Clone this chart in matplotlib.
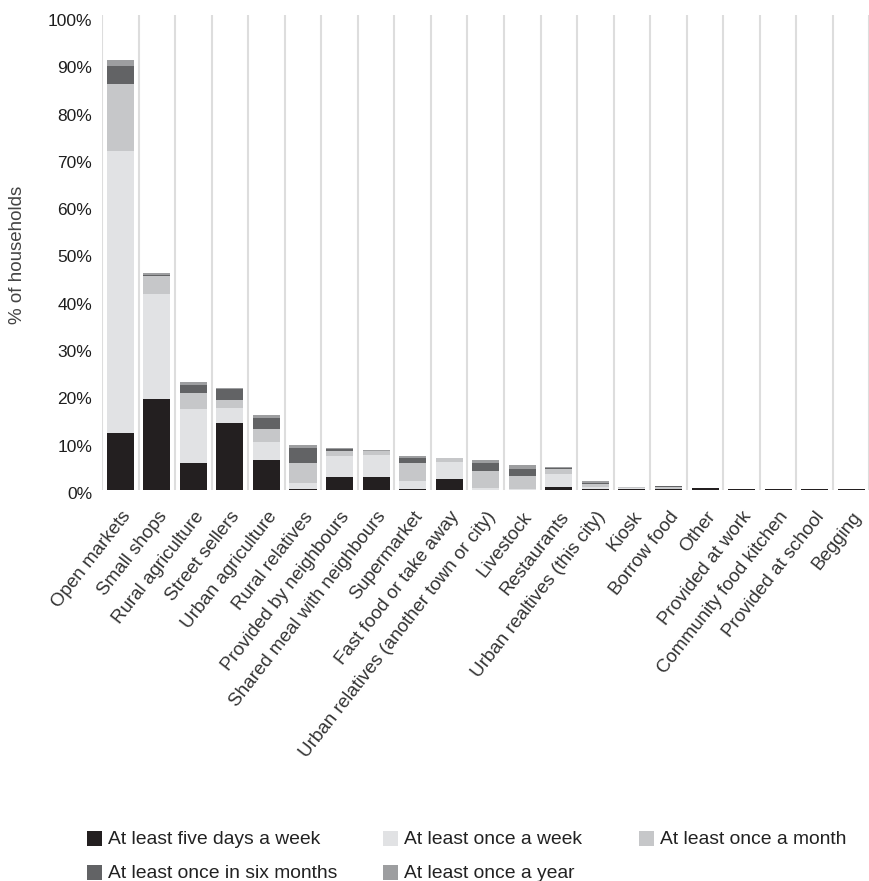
import matplotlib
matplotlib.use("Agg")
import matplotlib.pyplot as plt
from matplotlib.patches import Rectangle
from matplotlib.transforms import ScaledTranslation
import numpy as np

categories = [
    "Open markets", "Small shops", "Rural agriculture", "Street sellers",
    "Urban agriculture", "Rural relatives", "Provided by neighbours",
    "Shared meal with neighbours", "Supermarket", "Fast food or take away",
    "Urban relatives (another town or city)", "Livestock", "Restaurants",
    "Urban realtives (this city)", "Kiosk", "Borrow food", "Other",
    "Provided at work", "Community food kitchen", "Provided at school", "Begging",
]

five_days  = [12.1, 19.2, 5.7, 14.2, 6.3, 0.3, 2.8, 2.8, 0.3, 2.3, 0.1, 0.1, 0.7, 0.2, 0.2, 0.2, 0.4, 0.2, 0.2, 0.2, 0.2]
once_week  = [59.6, 22.2, 11.4, 3.1, 3.8, 1.2, 4.4, 4.6, 1.6, 3.6, 0.3, 0.1, 2.7, 0.5, 0.2, 0.0, 0.0, 0.0, 0.0, 0.0, 0.0]
once_month = [14.1, 3.8, 3.4, 1.7, 2.8, 4.2, 1.1, 0.9, 3.8, 0.9, 3.6, 2.8, 1.0, 0.5, 0.2, 0.4, 0.0, 0.0, 0.0, 0.0, 0.0]
six_months = [3.8, 0.3, 1.7, 2.4, 2.3, 3.2, 0.4, 0.0, 1.1, 0.0, 1.7, 1.5, 0.3, 0.2, 0.0, 0.2, 0.0, 0.0, 0.0, 0.0, 0.0]
once_year  = [1.3, 0.4, 0.6, 0.2, 0.7, 0.6, 0.2, 0.2, 0.4, 0.0, 0.7, 0.8, 0.1, 0.6, 0.0, 0.0, 0.0, 0.0, 0.0, 0.0, 0.0]

series_labels = [
    "At least five days a week", "At least once a week", "At least once a month",
    "At least once in six months", "At least once a year",
]
series = [five_days, once_week, once_month, six_months, once_year]
colors = ["#231f20", "#e1e2e4", "#c6c7c9", "#626365", "#9d9ea0"]

yticks = list(range(0, 101, 10))
ytick_labels = [f"{v}%" for v in yticks]

plt.rcParams['font.family'] = ['Liberation Sans', 'DejaVu Sans']

W, H = 870, 881
fig = plt.figure(figsize=(W / 100, H / 100), dpi=100)
ax = fig.add_axes([102 / W, (H - 490) / H, (869.5 - 102) / W, (490 - 15) / H])

x = np.arange(len(categories))
bottom = np.zeros(len(categories))
for vals, col in zip(series, colors):
    vals = np.array(vals)
    ax.bar(x, vals, width=0.74, bottom=bottom, color=col, linewidth=0, zorder=3)
    bottom += vals

ax.set_xlim(-0.5, len(categories) - 0.5)
ax.set_ylim(0, 100.42)

# light separators between categories
for k in range(len(categories) + 1):
    ax.axvline(k - 0.5, color="#dddddd", lw=1.5, zorder=1)

for s in ax.spines.values():
    s.set_visible(False)

ax.set_yticks(yticks)
ax.set_yticklabels(ytick_labels, fontsize=12.5, color="#1e1e1e")
ax.tick_params(axis="y", length=0, pad=7)
for lbl in ax.get_yticklabels():
    lbl.set_transform(lbl.get_transform() + ScaledTranslation(0, -0.03, fig.dpi_scale_trans))

ax.set_xticks(x)
ax.set_xticklabels(categories, rotation=52, ha="right", va="center",
                   rotation_mode="anchor", fontsize=13.5, color="#333333")
ax.tick_params(axis="x", length=0, pad=17)
for lbl in ax.get_xticklabels():
    lbl.set_transform(lbl.get_transform() + ScaledTranslation(0.07, 0, fig.dpi_scale_trans))

fig.text(18 / W, 1 - 255 / H, "% of households", rotation=90, ha="center", va="center",
         fontsize=13.5, color="#444444")

# legend laid out as a grid below the axes
legend_pos = [(87, 838), (383, 838), (639, 838), (87, 872), (383, 872)]
sq = 15
for (px, py), col, lab in zip(legend_pos, colors, series_labels):
    fig.patches.append(Rectangle((px / W, 1 - (py + sq / 2) / H), sq / W, sq / H,
                                 transform=fig.transFigure, facecolor=col, edgecolor="none"))
    fig.text((px + 21) / W, 1 - (py + 1) / H, lab, ha="left", va="center",
             fontsize=13.9, color="#222222")

fig.savefig("out.png", dpi=100)
